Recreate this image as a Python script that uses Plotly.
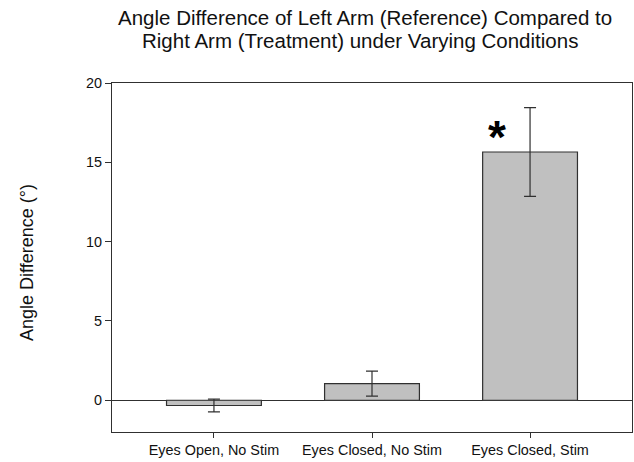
import plotly.graph_objects as go

categories = ["Eyes Open, No Stim", "Eyes Closed, No Stim", "Eyes Closed, Stim"]
means = [-0.33, 1.05, 15.65]
errors = [0.4, 0.79, 2.8]
y_ticks = [0, 5, 10, 15, 20]
star_label = "*"
star_category_offset = -0.21
star_y = 16.6

FONT = "Liberation Sans, Arial, sans-serif"

fig = go.Figure()
fig.add_trace(go.Bar(
    x=list(range(len(categories))),
    y=means,
    width=0.6,
    marker=dict(color="#c0c0c0", line=dict(color="#303030", width=1.2)),
    error_y=dict(type="data", array=errors, visible=True, color="#303030", thickness=1.2, width=6),
    showlegend=False,
))

fig.add_annotation(
    x=2 + star_category_offset, y=star_y, xref="x", yref="y",
    text="<b>" + star_label + "</b>", showarrow=False,
    font=dict(family=FONT, size=46, color="black"),
    yanchor="middle", xanchor="center",
)

# title lines
fig.add_annotation(
    x=365, y=462 - 18, xref="paper", yref="paper", showarrow=False,
    text="Angle Difference of Left Arm (Reference) Compared to",
    font=dict(family=FONT, size=20.5, color="#111"),
    xanchor="center", yanchor="middle",
)
fig.add_annotation(
    x=360, y=462 - 40, xref="paper", yref="paper", showarrow=False,
    text="Right Arm (Treatment) under Varying Conditions",
    font=dict(family=FONT, size=20.5, color="#111"),
    xanchor="center", yanchor="middle",
)

# y-axis title
fig.add_annotation(
    x=27, y=462 - 263, xref="paper", yref="paper", showarrow=False,
    text="Angle Difference (°)", textangle=-90,
    font=dict(family=FONT, size=18, color="#111"),
    xanchor="center", yanchor="middle",
)

# convert pixel-based paper positions for annotations above
L, R, T, B = 112, 2, 83, 30
W, H = 634, 462
pw, ph = W - L - R, H - T - B
for ann in fig.layout.annotations:
    if ann.xref == "paper":
        ann.x = (ann.x - L) / pw
        ann.y = (ann.y - B) / ph

fig.update_layout(
    width=W, height=H,
    margin=dict(l=L, r=R, t=T, b=B),
    paper_bgcolor="white", plot_bgcolor="white",
    font=dict(family=FONT, color="#222"),
    xaxis=dict(
        range=[-0.645, 2.645],
        tickmode="array", tickvals=list(range(len(categories))), ticktext=categories,
        ticks="outside", ticklen=5, tickcolor="#303030",
        showline=True, linecolor="#303030", linewidth=1, mirror=True,
        showgrid=False, zeroline=False,
        tickfont=dict(size=14.4, color="#111"),
    ),
    yaxis=dict(
        range=[-2, 20],
        tickmode="array", tickvals=y_ticks,
        ticks="outside", ticklen=6, tickcolor="#303030",
        showline=True, linecolor="#303030", linewidth=1, mirror=True,
        showgrid=False, zeroline=True, zerolinecolor="#303030", zerolinewidth=1,
        tickfont=dict(size=14.4, color="#111"),
    ),
)

fig.write_html("out.html")
